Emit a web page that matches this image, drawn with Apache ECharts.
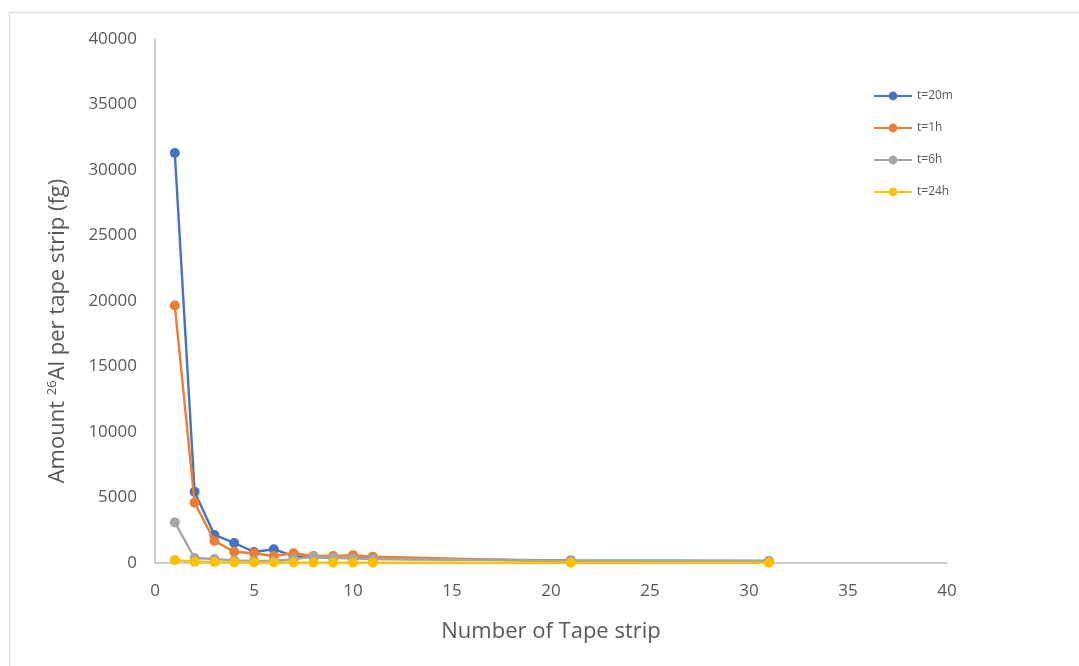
<!DOCTYPE html>
<html>
<head>
<meta charset="utf-8">
<script src="https://cdn.jsdelivr.net/npm/echarts@6/dist/echarts.min.js"></script>
<style>
html,body{margin:0;padding:0;background:#fff;}
#chart{width:1079px;height:666px;}
</style>
</head>
<body>
<div id="chart"></div>
<script>
const stripNumbers = [1, 2, 3, 4, 5, 6, 7, 8, 9, 10, 11, 21, 31];
const t20m = [31300, 5440, 2140, 1530, 840, 1050, 520, 450, 400, 380, 320, 200, 150];
const t1h  = [19650, 4600, 1680, 860, 740, 530, 740, 530, 530, 600, 480, 120, 80];
const t6h  = [3100, 380, 300, 200, 160, 150, 300, 480, 400, 350, 300, 180, 150];
const t24h = [230, 90, 70, 50, 40, 40, 40, 30, 30, 30, 20, 20, 20];
const seriesNames = ['t=20m', 't=1h', 't=6h', 't=24h'];
const seriesColors = ['#4472C4', '#ED7D31', '#A5A5A5', '#FFC000'];
const xTicks = [0, 40, 5];
const yTicks = [0, 40000, 5000];

const allData = [t20m, t1h, t6h, t24h];
const chart = echarts.init(document.getElementById('chart'));
const series = allData.map((vals, i) => ({
  name: seriesNames[i],
  type: 'line',
  data: stripNumbers.map((x, j) => [x, vals[j]]),
  symbol: 'circle',
  symbolSize: 10,
  lineStyle: {width: 2.4, color: seriesColors[i]},
  itemStyle: {color: seriesColors[i]},
  z: 2 + i,
  animation: false
}));

chart.setOption({
  animation: false,
  backgroundColor: '#fff',
  textStyle: {fontFamily: 'Open Sans'},
  graphic: [{
    type: 'rect',
    shape: {x: 9.5, y: 12.5, width: 1200, height: 800},
    style: {fill: 'none', stroke: '#e0e0e0', lineWidth: 1.5},
    silent: true
  }],
  grid: {left: 155, right: 132, top: 39, bottom: 103},
  legend: {
    orient: 'vertical',
    left: 868,
    top: 85,
    itemWidth: 38,
    itemHeight: 11,
    itemGap: 20,
    textStyle: {color: '#595959', fontSize: 12, fontFamily: 'Open Sans'},
    data: seriesNames
  },
  xAxis: {
    type: 'value',
    min: xTicks[0], max: xTicks[1], interval: xTicks[2],
    name: 'Number of Tape strip',
    nameLocation: 'middle',
    nameGap: 58,
    nameTextStyle: {color: '#595959', fontSize: 22},
    axisLine: {show: true, lineStyle: {color: '#BFBFBF', width: 1.5}},
    axisTick: {show: false},
    splitLine: {show: false},
    axisLabel: {color: '#595959', fontSize: 17, margin: 20}
  },
  yAxis: {
    type: 'value',
    min: yTicks[0], max: yTicks[1], interval: yTicks[2],
    name: '{a|Amount }{s|26}{a|Al per tape strip (fg)}',
    nameLocation: 'middle',
    nameGap: 86,
    nameRotate: 90,
    nameTextStyle: {
      color: '#595959',
      padding: [0, 60, 0, 0],
      rich: {
        a: {fontSize: 22, color: '#595959', fontFamily: 'Open Sans', verticalAlign: 'bottom'},
        s: {fontSize: 13, color: '#595959', fontFamily: 'Open Sans', verticalAlign: 'top', padding: [0, 0, 10, 0]}
      }
    },
    axisLine: {show: true, lineStyle: {color: '#BFBFBF', width: 1.5}},
    axisTick: {show: false},
    splitLine: {show: false},
    axisLabel: {color: '#595959', fontSize: 17, margin: 18, formatter: v => String(v)}
  },
  series: series
});
</script>
</body>
</html>
